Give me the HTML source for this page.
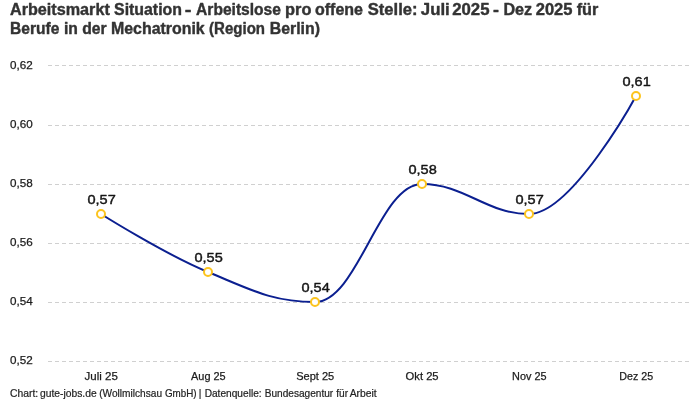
<!DOCTYPE html>
<html><head><meta charset="utf-8">
<style>
html,body{margin:0;padding:0;background:#fff;}
body{width:700px;height:400px;overflow:hidden;font-family:"Liberation Sans",sans-serif;}
svg{display:block;will-change:transform;}
text{font-family:"Liberation Sans",sans-serif;}
.title{font-size:15.8px;font-weight:bold;fill:#333;stroke:#333;stroke-width:0.4px;stroke-linejoin:round;}
.tick{font-size:11px;fill:#1c1c1c;stroke:#1c1c1c;stroke-width:0.25px;}
.val{font-size:13.7px;font-weight:normal;fill:#151515;stroke:#151515;stroke-width:0.42px;stroke-linejoin:round;text-anchor:middle;}
.xt{font-size:11px;fill:#1c1c1c;stroke:#1c1c1c;stroke-width:0.25px;text-anchor:middle;}
.foot{font-size:10.2px;fill:#222;stroke:#222;stroke-width:0.2px;}
.grid line{stroke:#d0d0d0;stroke-width:1;stroke-dasharray:4 3;shape-rendering:crispEdges;}
.mk circle{fill:#fff;stroke:#fcc41e;stroke-width:2;}
</style></head><body>
<svg width="700" height="400" viewBox="0 0 700 400">
<text class="title" x="10.00" y="15" textLength="99.80" lengthAdjust="spacingAndGlyphs">Arbeitsmarkt</text>
<text class="title" x="114.04" y="15" textLength="67.95" lengthAdjust="spacingAndGlyphs">Situation</text>
<text class="title" x="184.73" y="15" textLength="6.68" lengthAdjust="spacingAndGlyphs">-</text>
<text class="title" x="196.10" y="15" textLength="84.85" lengthAdjust="spacingAndGlyphs">Arbeitslose</text>
<text class="title" x="285.09" y="15" textLength="26.38" lengthAdjust="spacingAndGlyphs">pro</text>
<text class="title" x="315.01" y="15" textLength="48.00" lengthAdjust="spacingAndGlyphs">offene</text>
<text class="title" x="367.74" y="15" textLength="49.73" lengthAdjust="spacingAndGlyphs">Stelle:</text>
<text class="title" x="420.81" y="15" textLength="28.96" lengthAdjust="spacingAndGlyphs">Juli</text>
<text class="title" x="452.21" y="15" textLength="37.31" lengthAdjust="spacingAndGlyphs">2025</text>
<text class="title" x="493.06" y="15" textLength="5.93" lengthAdjust="spacingAndGlyphs">-</text>
<text class="title" x="503.42" y="15" textLength="28.77" lengthAdjust="spacingAndGlyphs">Dez</text>
<text class="title" x="535.73" y="15" textLength="36.79" lengthAdjust="spacingAndGlyphs">2025</text>
<text class="title" x="576.66" y="15" textLength="21.64" lengthAdjust="spacingAndGlyphs">für</text>
<text class="title" x="10.00" y="33.5" textLength="49.35" lengthAdjust="spacingAndGlyphs">Berufe</text>
<text class="title" x="64.00" y="33.5" textLength="13.93" lengthAdjust="spacingAndGlyphs">in</text>
<text class="title" x="82.27" y="33.5" textLength="24.40" lengthAdjust="spacingAndGlyphs">der</text>
<text class="title" x="111.01" y="33.5" textLength="93.72" lengthAdjust="spacingAndGlyphs">Mechatronik</text>
<text class="title" x="209.08" y="33.5" textLength="55.94" lengthAdjust="spacingAndGlyphs">(Region</text>
<text class="title" x="269.77" y="33.5" textLength="50.23" lengthAdjust="spacingAndGlyphs">Berlin)</text>
<text class="foot" x="10.00" y="397" textLength="28.17" lengthAdjust="spacingAndGlyphs">Chart:</text>
<text class="foot" x="40.06" y="397" textLength="56.63" lengthAdjust="spacingAndGlyphs">gute-jobs.de</text>
<text class="foot" x="99.19" y="397" textLength="62.83" lengthAdjust="spacingAndGlyphs">(Wollmilchsau</text>
<text class="foot" x="164.91" y="397" textLength="31.63" lengthAdjust="spacingAndGlyphs">GmbH)</text>
<text class="foot" x="198.83" y="397" textLength="2.64" lengthAdjust="spacingAndGlyphs">|</text>
<text class="foot" x="204.67" y="397" textLength="56.95" lengthAdjust="spacingAndGlyphs">Datenquelle:</text>
<text class="foot" x="264.71" y="397" textLength="68.48" lengthAdjust="spacingAndGlyphs">Bundesagentur</text>
<text class="foot" x="336.28" y="397" textLength="11.83" lengthAdjust="spacingAndGlyphs">für</text>
<text class="foot" x="349.65" y="397" textLength="27.05" lengthAdjust="spacingAndGlyphs">Arbeit</text>
<g class="grid">
<line x1="48" x2="690" y1="65.5" y2="65.5"/>
<line x1="48" x2="690" y1="125.5" y2="125.5"/>
<line x1="48" x2="690" y1="184.5" y2="184.5"/>
<line x1="48" x2="690" y1="243.5" y2="243.5"/>
<line x1="48" x2="690" y1="302.5" y2="302.5"/>
<line x1="48" x2="690" y1="361.5" y2="361.5"/>
</g>
<g class="tick">
<text x="10" y="69" textLength="22.7" lengthAdjust="spacingAndGlyphs">0,62</text>
<text x="10" y="128" textLength="22.7" lengthAdjust="spacingAndGlyphs">0,60</text>
<text x="10" y="187" textLength="22.7" lengthAdjust="spacingAndGlyphs">0,58</text>
<text x="10" y="246" textLength="22.7" lengthAdjust="spacingAndGlyphs">0,56</text>
<text x="10" y="305" textLength="22.7" lengthAdjust="spacingAndGlyphs">0,54</text>
<text x="10" y="364" textLength="22.7" lengthAdjust="spacingAndGlyphs">0,52</text>
</g>
<path d="M101,214C101.00,214.00,165.20,254.40,208,272C250.80,289.60,272.20,302.00,315,302C357.80,302.00,379.20,184.00,422,184C464.80,184.00,486.20,214.00,529,214C571.80,214.00,636.00,96.00,636,96" fill="none" stroke="#0b1f90" stroke-width="2"/>
<g class="mk">
<circle cx="101" cy="214" r="4"/>
<circle cx="208" cy="272" r="4"/>
<circle cx="315" cy="302" r="4"/>
<circle cx="422" cy="184" r="4"/>
<circle cx="529" cy="214" r="4"/>
<circle cx="636" cy="96" r="4"/>
</g>
<g class="val">
<text x="101.6" y="203.8" textLength="28.3" lengthAdjust="spacingAndGlyphs">0,57</text>
<text x="208.6" y="261.8" textLength="28.3" lengthAdjust="spacingAndGlyphs">0,55</text>
<text x="315.6" y="291.8" textLength="28.3" lengthAdjust="spacingAndGlyphs">0,54</text>
<text x="422.6" y="173.8" textLength="28.3" lengthAdjust="spacingAndGlyphs">0,58</text>
<text x="529.6" y="203.8" textLength="28.3" lengthAdjust="spacingAndGlyphs">0,57</text>
<text x="636.6" y="85.8" textLength="28.3" lengthAdjust="spacingAndGlyphs">0,61</text>
</g>
<g class="xt">
<text x="101.20" y="380" textLength="33.30" lengthAdjust="spacingAndGlyphs">Juli 25</text>
<text x="208.40" y="380" textLength="34.60" lengthAdjust="spacingAndGlyphs">Aug 25</text>
<text x="315.20" y="380" textLength="38.00" lengthAdjust="spacingAndGlyphs">Sept 25</text>
<text x="422.10" y="380" textLength="33.00" lengthAdjust="spacingAndGlyphs">Okt 25</text>
<text x="529.30" y="380" textLength="34.40" lengthAdjust="spacingAndGlyphs">Nov 25</text>
<text x="636.20" y="380" textLength="33.80" lengthAdjust="spacingAndGlyphs">Dez 25</text>
</g>
</svg>
</body></html>
